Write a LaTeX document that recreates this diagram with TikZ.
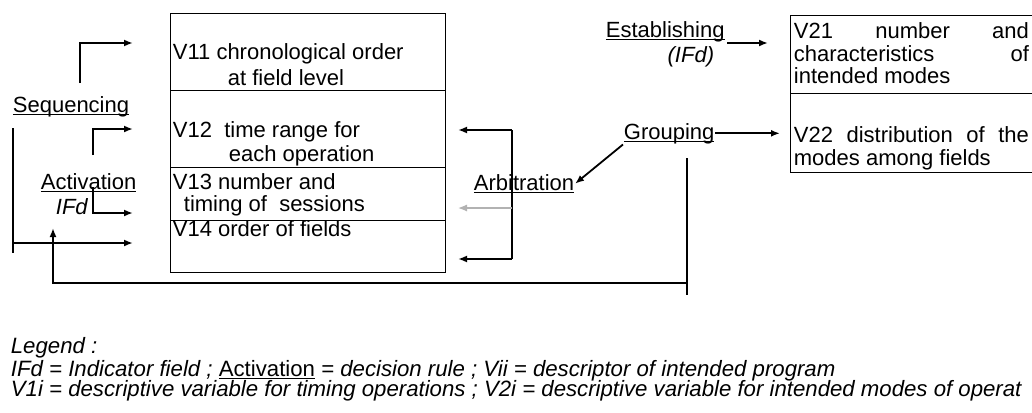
\documentclass[tikz,border=0pt]{standalone}
\usepackage{fontspec}
\setmainfont{Liberation Sans}
\usetikzlibrary{arrows.meta}
\newcommand{\rulename}[1]{\leavevmode\setbox0\hbox{#1}\rlap{\rule[-1.7pt]{\wd0}{0.55pt}}\box0\relax}

\begin{document}
\begin{tikzpicture}[x=0.5pt,y=-0.5pt,>={Latex[length=4.5pt,width=3.5pt]},line width=0.9pt,
  cell/.style={draw,line width=0.7pt,minimum width=137.5pt,inner sep=0pt,anchor=north west},
  txt/.style={anchor=base west,inner sep=0pt,font=\fontsize{11}{13}\selectfont},
  legend/.style={anchor=base west,inner sep=0pt,font=\fontsize{11.1}{13}\selectfont\itshape}]
\useasboundingbox (0,0) rectangle (1032,412);

% descriptors of timing
\node[cell,minimum height=38.5pt] (v11) at (170,13) {};
\node[cell,minimum height=38.5pt] (v12) at (170,90) {};
\node[cell,minimum height=26.5pt] (v13) at (170,167) {};
\node[cell,minimum height=26pt] (v14) at (170,220) {};
\node[txt] (t11a) at (172,59) {V11 chronological order};
\node[txt] (t11b) at (227,85) {at field level};
\node[txt] (t12a) at (172,137) {V12\ \ time range for};
\node[txt] (t12b) at (228,161) {each operation};
\node[txt] (t13a) at (172,189) {V13 number and};
\node[txt] (t13b) at (183,211) {timing of\ \ sessions};
\node[txt] (t14) at (172,236) {V14 order of fields};

% descriptors of modes
\node[cell,minimum width=125pt,minimum height=39pt] (w21) at (790,15) {};
\node[cell,minimum width=125pt,minimum height=39.5pt] (w22) at (790,93) {};
\node[txt] (t21a) at (793,39) {\makebox[117.5pt][s]{V21 number and}};
\node[txt] (t21b) at (793,61) {\makebox[117.5pt][s]{characteristics of}};
\node[txt] (t21c) at (793,83) {intended modes};
\node[txt] (t22a) at (793,142) {\makebox[117.5pt][s]{V22 distribution of the}};
\node[txt] (t22b) at (793,165) {modes among fields};

% decision rules
\node[txt] (seq) at (12,112) {\rulename{Sequencing}};
\node[txt] (act) at (40,189) {\rulename{Activation}};
\node[txt,font=\fontsize{11}{13}\selectfont\itshape] (ifd) at (55,214) {IFd};
\node[txt] (arb) at (473,190) {\rulename{Arbitration}};
\node[txt] (grp) at (623,139) {\rulename{Grouping}};
\node[txt] (est) at (605,37) {\rulename{Establishing}};
\node[txt,anchor=base east,font=\fontsize{11}{13}\selectfont\itshape] (ifd2) at (715,62) {(IFd)};

\coordinate (s1) at (80,83);   \coordinate (e1) at (133,43);
\coordinate (s2) at (93,155);  \coordinate (e2) at (133,129);
\coordinate (s3) at (93,187);  \coordinate (e3) at (133,213);
\coordinate (l1) at (13,128);  \coordinate (l2) at (13,253);
\coordinate (e4) at (133,243);
\coordinate (g1) at (687,158); \coordinate (g2) at (687,295);
\coordinate (b1) at (687,283); \coordinate (f1) at (53,228);
\coordinate (a1) at (512,130); \coordinate (a2) at (512,208);
\coordinate (a3) at (512,259);

\draw[->] (s1) |- (e1);
\draw[->] (s2) |- (e2);
\draw[->] (s3) |- (e3);
\draw (l1) -- (l2);
\draw[->] (l1 |- e4) -- (e4);
\draw (g1) -- (g2);
\draw[->] (b1) -| (f1);

\draw (a1) -- (a3);
\draw[->] (a1) -- ++(-54,0);
\draw[->,gray!60,line width=0.6pt] (a2) -- ++(-54,0);
\draw[->] (a3) -- ++(-54,0);

\draw[->] (grp.south west) -- (arb.east);
\draw[->,shorten >=5pt] (grp.east) -- (grp.east -| w22.west);
\draw[->] (727,43) -- (768,43);

% legend
\node[legend] (lg1) at (10,353) {Legend :};
\node[legend] (lg2) at (10,376) {IFd = Indicator field ; \rulename{\upshape Activation} = decision rule ; Vii = descriptor of intended program};
\node[legend] (lg3) at (10,396) {V1i = descriptive variable for timing operations ; V2i = descriptive variable for intended modes of operat};
\end{tikzpicture}
\end{document}
